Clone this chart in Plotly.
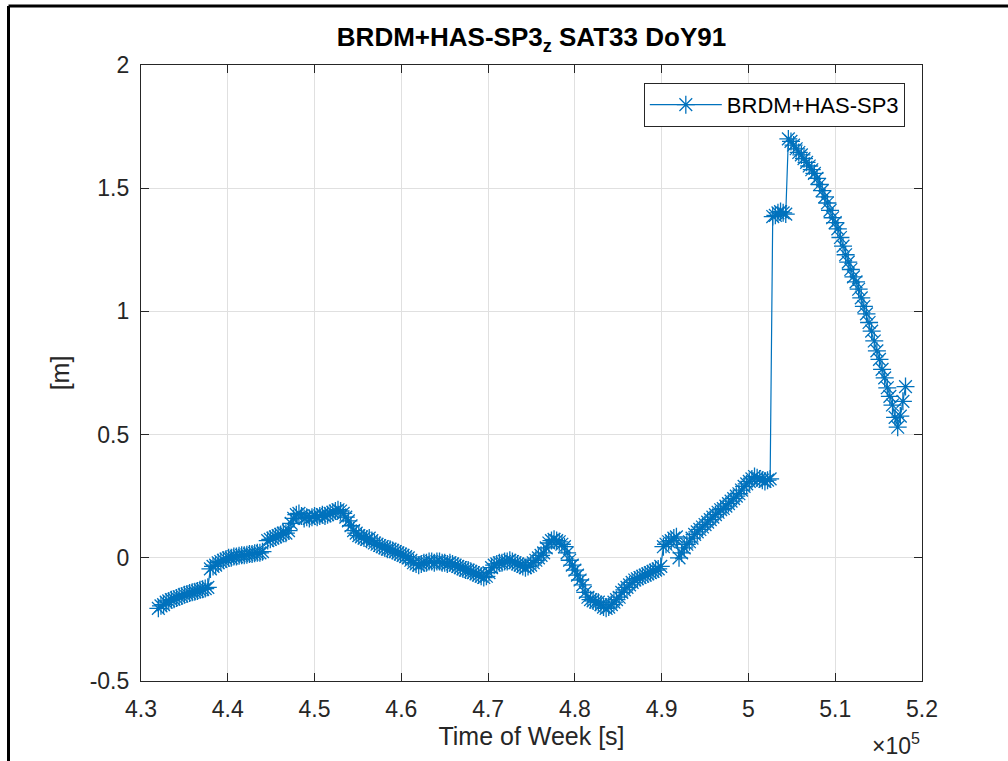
import plotly.graph_objects as go

# Time of week [s], 300 s epochs
tow = [
    432000, 432300, 432600, 432900, 433200, 433500, 433800, 434100, 434400, 434700, 435000, 435300,
    435600, 435900, 436200, 436500, 436800, 437100, 437400, 437700, 438000, 438300, 438600, 438900,
    439200, 439500, 439800, 440100, 440400, 440700, 441000, 441300, 441600, 441900, 442200, 442500,
    442800, 443100, 443400, 443700, 444000, 444300, 444600, 444900, 445200, 445500, 445800, 446100,
    446400, 446700, 447000, 447300, 447600, 447900, 448200, 448500, 448800, 449100, 449400, 449700,
    450000, 450300, 450600, 450900, 451200, 451500, 451800, 452100, 452400, 452700, 453000, 453300,
    453600, 453900, 454200, 454500, 454800, 455100, 455400, 455700, 456000, 456300, 456600, 456900,
    457200, 457500, 457800, 458100, 458400, 458700, 459000, 459300, 459600, 459900, 460200, 460500,
    460800, 461100, 461400, 461700, 462000, 462300, 462600, 462900, 463200, 463500, 463800, 464100,
    464400, 464700, 465000, 465300, 465600, 465900, 466200, 466500, 466800, 467100, 467400, 467700,
    468000, 468300, 468600, 468900, 469200, 469500, 469800, 470100, 470400, 470700, 471000, 471300,
    471600, 471900, 472200, 472500, 472800, 473100, 473400, 473700, 474000, 474300, 474600, 474900,
    475200, 475500, 475800, 476100, 476400, 476700, 477000, 477300, 477600, 477900, 478200, 478500,
    478800, 479100, 479400, 479700, 480000, 480300, 480600, 480900, 481200, 481500, 481800, 482100,
    482400, 482700, 483000, 483300, 483600, 483900, 484200, 484500, 484800, 485100, 485400, 485700,
    486000, 486300, 486600, 486900, 487200, 487500, 487800, 488100, 488400, 488700, 489000, 489300,
    489600, 489900, 490200, 490500, 490800, 491100, 491400, 491700, 492000, 492300, 492600, 492900,
    493200, 493500, 493800, 494100, 494400, 494700, 495000, 495300, 495600, 495900, 496200, 496500,
    496800, 497100, 497400, 497700, 498000, 498300, 498600, 498900, 499200, 499500, 499800, 500100,
    500400, 500700, 501000, 501300, 501600, 501900, 502200, 502500, 502800, 503100, 503400, 503700,
    504000, 504300, 504600, 504900, 505200, 505500, 505800, 506100, 506400, 506700, 507000, 507300,
    507600, 507900, 508200, 508500, 508800, 509100, 509400, 509700, 510000, 510300, 510600, 510900,
    511200, 511500, 511800, 512100, 512400, 512700, 513000, 513300, 513600, 513900, 514200, 514500,
    514800, 515100, 515400, 515700, 516000, 516300, 516600, 516900, 517200, 517500, 517800, 518100,
]

# BRDM+HAS-SP3 z-difference [m] (None = data gap)
dz = [
    -0.205, -0.195, -0.19, -0.18, -0.175, -0.17, -0.168, -0.163, -0.158, -0.155, -0.15, -0.147,
    -0.143, -0.14, -0.138, -0.135, -0.13, -0.128, -0.125, -0.12, -0.045, -0.035, -0.03, -0.02,
    -0.015, -0.01, -0.005, 0.0, 0.0, 0.005, 0.005, 0.008, 0.01, 0.01, 0.012, 0.015,
    0.015, 0.018, 0.02, 0.02, 0.025, None, 0.07, 0.075, 0.08, 0.085, 0.09, 0.095,
    0.10, 0.10, 0.11, 0.14, 0.16, 0.175, 0.18, 0.17, 0.16, 0.165, 0.16, 0.165,
    0.17, 0.165, 0.17, 0.175, 0.17, 0.175, 0.18, 0.185, 0.19, 0.195, 0.19, 0.18,
    0.165, 0.15, 0.13, 0.11, 0.10, 0.09, 0.085, 0.08, 0.075, 0.08, 0.07, 0.06,
    0.055, 0.05, 0.045, 0.04, 0.035, 0.035, 0.03, 0.025, 0.02, 0.015, 0.01, 0.005,
    0.0, -0.01, -0.02, -0.025, -0.03, -0.025, -0.02, -0.02, -0.015, -0.015, -0.02, -0.015,
    -0.015, -0.02, -0.02, -0.025, -0.02, -0.025, -0.03, -0.035, -0.04, -0.045, -0.05, -0.05,
    -0.055, -0.06, -0.065, -0.07, -0.075, -0.08, -0.075, -0.06, -0.04, -0.03, -0.025, -0.02,
    -0.02, -0.015, -0.015, -0.01, -0.015, -0.02, -0.025, -0.03, -0.035, -0.04, -0.035, -0.03,
    -0.02, -0.01, 0.0, 0.01, 0.02, 0.04, 0.06, 0.07, 0.075, 0.07, 0.065, 0.055,
    0.045, 0.02, -0.01, -0.03, -0.05, -0.07, -0.09, -0.11, -0.14, -0.16, -0.17, -0.175,
    -0.18, -0.18, -0.19, -0.20, -0.205, -0.20, -0.19, -0.18, -0.17, -0.16, -0.14, -0.13,
    -0.12, -0.11, -0.10, -0.09, -0.085, -0.08, -0.075, -0.07, -0.065, -0.06, -0.055, -0.05,
    -0.045, -0.035, 0.045, 0.055, 0.065, 0.07, 0.08, 0.085, 0.0, 0.02, 0.04, 0.055,
    0.065, 0.08, 0.095, 0.105, 0.115, 0.125, 0.135, 0.145, 0.155, 0.165, 0.175, 0.185,
    0.195, 0.20, 0.21, 0.22, 0.23, 0.24, 0.25, 0.26, 0.275, 0.29, 0.30, 0.31,
    0.32, 0.33, 0.325, 0.32, 0.315, 0.31, 0.315, 0.32, 1.385, 1.39, 1.40, 1.405,
    1.40, 1.395, 1.70, 1.69, 1.675, 1.66, 1.645, 1.635, 1.62, 1.605, 1.59, 1.575,
    1.56, 1.54, 1.515, 1.49, 1.465, 1.44, 1.41, 1.38, 1.36, 1.335, 1.30, 1.265,
    1.23, 1.20, 1.17, 1.14, 1.12, 1.09, 1.055, 1.02, 0.99, 0.955, 0.92, 0.88,
    0.84, 0.805, 0.765, 0.73, 0.69, 0.655, 0.62, 0.57, 0.53, 0.575, 0.635, 0.695,
]

x_tickvals = [430000, 440000, 450000, 460000, 470000, 480000, 490000, 500000, 510000, 520000]
x_ticktext = ["4.3", "4.4", "4.5", "4.6", "4.7", "4.8", "4.9", "5", "5.1", "5.2"]
y_tickvals = [-0.5, 0, 0.5, 1, 1.5, 2]
y_ticktext = ["-0.5", "0", "0.5", "1", "1.5", "2"]

series_name = "BRDM+HAS-SP3"
title_text = "<b>BRDM+HAS-SP3<sub>z</sub> SAT33 DoY91</b>"

BLUE = "#0072BD"
AX = "#262626"
FONT = "Arial, Liberation Sans, Helvetica, sans-serif"

fig = go.Figure()
fig.add_trace(go.Scatter(
    x=tow, y=dz, mode="lines+markers", name=series_name,
    line=dict(color=BLUE, width=1.2),
    marker=dict(symbol="asterisk-open", size=15, color=BLUE, line=dict(color=BLUE, width=1.3)),
    connectgaps=False,
))

axis_common = dict(
    showgrid=True, gridcolor="#e0e0e0", gridwidth=1,
    showline=True, linecolor=AX, linewidth=1.2, mirror="ticks",
    ticks="inside", ticklen=8, tickcolor=AX, tickwidth=1,
    tickfont=dict(family=FONT, size=23, color=AX),
    zeroline=False,
)

fig.update_layout(
    width=1008, height=761,
    margin=dict(l=141, r=86, t=65, b=80),
    paper_bgcolor="white", plot_bgcolor="white",
    font=dict(family=FONT, color=AX),
    title=dict(text=title_text, x=0.5, xref="paper", xanchor="center",
               y=1 - 37 / 761, yref="container", yanchor="middle",
               font=dict(family=FONT, size=26, color="black")),
    xaxis=dict(range=[430000, 520000], tickmode="array", tickvals=x_tickvals, ticktext=x_ticktext,
               title=dict(text="Time of Week [s]", font=dict(family=FONT, size=25, color=AX), standoff=6),
               ticklabelstandoff=7,
               **axis_common),
    yaxis=dict(range=[-0.5, 2], tickmode="array", tickvals=y_tickvals, ticktext=y_ticktext,
               title=dict(text="[m]", font=dict(family=FONT, size=25, color=AX), standoff=12),
               ticklabelstandoff=6,
               **axis_common),
    legend=dict(x=0.978, y=0.971, xanchor="right", yanchor="top",
                bgcolor="white", bordercolor=AX, borderwidth=1,
                font=dict(family=FONT, size=22, color="black"), itemwidth=72,
                tracegroupgap=0),
    showlegend=True,
)

fx = (8.5 - 141) / 781
fy = 1 + (65 - 6) / 616
fig.add_shape(type="line", xref="paper", yref="paper", x0=fx, x1=fx, y0=fy, y1=-0.3,
              line=dict(color="black", width=3))
fig.add_shape(type="line", xref="paper", yref="paper", x0=fx, x1=1.2, y0=fy, y1=fy,
              line=dict(color="black", width=3))

fig.add_annotation(text="×10<sup>5</sup>", xref="paper", yref="paper", x=1.0, y=(681 - 744) / 616,
                   xanchor="right", yanchor="middle", showarrow=False,
                   font=dict(family=FONT, size=23, color=AX))

fig.write_html("out.html")
